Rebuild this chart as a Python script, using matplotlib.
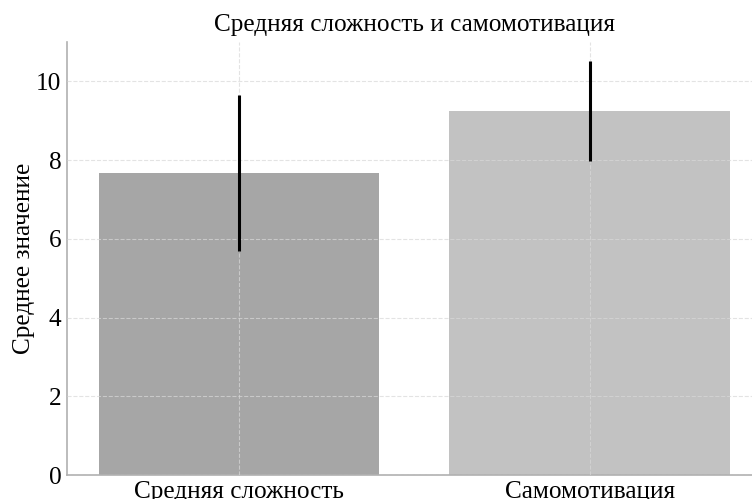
import matplotlib
matplotlib.use("Agg")
import matplotlib.pyplot as plt

plt.rcParams['font.family'] = ['Liberation Serif', 'DejaVu Serif']

# Данные
categories = ['Средняя сложность', 'Самомотивация']
means = [7.67, 9.25]
errors = [1.98, 1.27]
colors = ['#a6a6a6', '#c2c2c2']

fig = plt.figure(figsize=(7.52, 4.99), dpi=100)
ax = fig.add_axes([0.089, 0.048, 0.924, 0.868])

ax.bar(categories, means, yerr=errors, width=0.8, color=colors,
       error_kw=dict(ecolor='black', elinewidth=2.2, capsize=0, zorder=4))

ax.set_ylim(0, 11)
ax.set_yticks([0, 2, 4, 6, 8, 10])
ax.set_title('Средняя сложность и самомотивация', fontsize=18.2, pad=8)
ax.set_ylabel('Среднее значение', fontsize=18.2, labelpad=0.8)
ax.tick_params(axis='both', length=0, labelsize=18.2, pad=4)

ax.grid(True, linestyle='--', color='#d8d8d8', alpha=0.7, lw=0.8)
ax.set_axisbelow(False)

for side in ['top', 'right']:
    ax.spines[side].set_visible(False)
for side in ['left', 'bottom']:
    ax.spines[side].set_color('#b0b0b0')
    ax.spines[side].set_linewidth(1.2)

plt.savefig('out.png', dpi=100)
